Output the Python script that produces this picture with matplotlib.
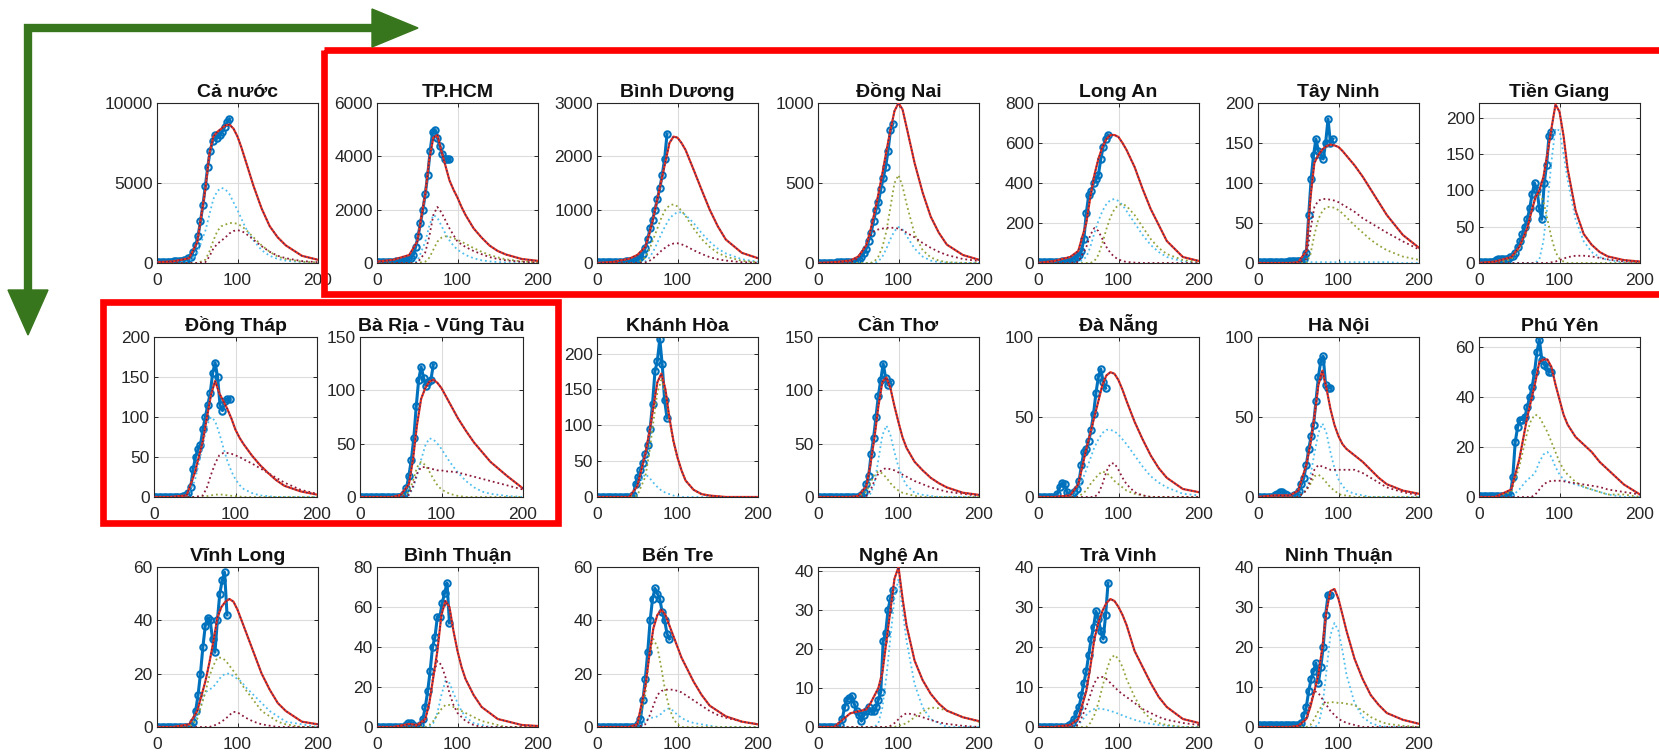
import matplotlib
matplotlib.use("Agg")
import matplotlib.pyplot as plt
from matplotlib.patches import Rectangle, Polygon
from matplotlib.lines import Line2D

plt.rcParams['font.family'] = ['Liberation Sans', 'DejaVu Sans']

model_days = [0, 20, 40, 50, 60, 65, 70, 75, 80, 85, 90, 95, 100, 105, 110, 120, 130, 140, 150, 160, 180, 200]
obs_days = list(range(0, 94, 3))

# ---- Cả nước
cn_fit = [50, 100, 300, 1300, 4600, 6800, 7900, 8200, 8400, 8600, 8650, 8400, 7900, 7200, 6400, 4800, 3400, 2300, 1600, 1100, 450, 200]
cn_c1 = [0, 0, 100, 600, 2000, 3000, 4000, 4500, 4700, 4600, 4300, 3800, 3300, 2750, 2200, 1400, 800, 450, 250, 150, 50, 20]
cn_c2 = [0, 0, 0, 0, 200, 700, 1400, 2000, 2300, 2400, 2500, 2500, 2450, 2300, 2100, 1600, 1100, 700, 400, 250, 80, 30]
cn_c3 = [0, 0, 0, 0, 50, 400, 900, 1200, 1400, 1600, 1850, 2000, 2050, 2000, 1850, 1450, 1050, 700, 450, 300, 120, 50]
cn_obs = [50, 50, 60, 60, 70, 80, 80, 100, 100, 120, 150, 170, 200, 300, 400, 700, 1100, 1700, 2600, 3600, 4800, 6000, 7000, 7600, 8000, 7800, 8000, 8200, 8500, 8800, 9000]

# ---- TP.HCM
hcm_fit = [50, 120, 300, 800, 2600, 3900, 4700, 4800, 4200, 3650, 3100, 2750, 2450, 2100, 1800, 1300, 950, 650, 450, 320, 150, 80]
hcm_c1 = [0, 0, 0, 50, 800, 1400, 1800, 1700, 1400, 1100, 850, 650, 500, 400, 300, 180, 100, 60, 35, 20, 8, 3]
hcm_c2 = [0, 0, 0, 0, 50, 200, 500, 800, 950, 1000, 980, 930, 870, 800, 720, 560, 420, 300, 210, 140, 60, 25]
hcm_c3 = [0, 0, 0, 0, 400, 1000, 1800, 2100, 1900, 1600, 1300, 1050, 800, 700, 600, 450, 330, 220, 150, 100, 45, 20]
hcm_obs = [30, 30, 30, 40, 40, 40, 50, 50, 60, 60, 60, 80, 100, 150, 200, 300, 600, 1000, 1500, 2000, 2600, 3300, 4200, 4900, 5000, 4700, 4400, 4100, 3900, 3900, 3900]

# ---- Bình Dương
bd_fit = [0, 20, 80, 150, 300, 550, 850, 1200, 1550, 1900, 2250, 2370, 2350, 2250, 2120, 1750, 1370, 1000, 690, 440, 190, 90]
bd_c1 = [0, 0, 0, 0, 30, 100, 220, 380, 550, 700, 830, 910, 950, 950, 900, 750, 560, 400, 270, 180, 70, 25]
bd_c2 = [0, 0, 0, 0, 100, 250, 450, 650, 850, 1000, 1080, 1100, 1060, 980, 880, 650, 450, 300, 190, 120, 40, 15]
bd_c3 = [0, 0, 0, 0, 10, 40, 90, 160, 230, 290, 340, 365, 370, 350, 320, 240, 170, 110, 70, 45, 15, 5]
bd_obs = [10, 10, 10, 10, 15, 15, 15, 20, 20, 20, 25, 25, 30, 30, 35, 40, 50, 80, 110, 170, 280, 450, 650, 800, 1000, 1200, 1400, 1650, 1950, 2420]

# ---- Đồng Nai
dn_fit = [0, 5, 15, 40, 110, 200, 310, 430, 560, 700, 830, 950, 1000, 960, 850, 625, 440, 290, 190, 115, 50, 20]
dn_c1 = [0, 0, 0, 0, 0, 0, 0, 10, 40, 90, 150, 200, 225, 210, 170, 90, 40, 15, 5, 2, 0, 0]
dn_c2 = [0, 0, 0, 0, 0, 0, 10, 40, 100, 200, 350, 500, 550, 480, 370, 180, 80, 35, 15, 5, 1, 0]
dn_c3 = [0, 0, 0, 30, 120, 170, 200, 210, 215, 220, 220, 220, 215, 205, 190, 160, 125, 95, 70, 50, 25, 12]
dn_obs = [2, 2, 2, 2, 3, 3, 3, 3, 4, 4, 5, 5, 5, 6, 7, 8, 10, 20, 40, 60, 90, 140, 190, 260, 330, 380, 460, 530, 600, 700, 830, 870]

# ---- Long An
la_fit = [0, 10, 30, 60, 200, 330, 440, 520, 580, 620, 640, 640, 630, 600, 565, 480, 370, 270, 190, 110, 30, 10]
la_c1 = [0, 0, 0, 0, 30, 80, 150, 210, 260, 295, 315, 320, 310, 290, 260, 200, 140, 90, 55, 30, 8, 2]
la_c2 = [0, 0, 0, 0, 0, 0, 10, 40, 100, 170, 230, 270, 290, 295, 285, 240, 180, 120, 75, 45, 15, 5]
la_c3 = [0, 0, 0, 5, 80, 140, 175, 160, 120, 80, 50, 30, 18, 10, 5, 2, 0, 0, 0, 0, 0, 0]
la_obs = [5, 5, 5, 5, 5, 5, 5, 5, 5, 5, 8, 10, 12, 15, 20, 25, 30, 40, 60, 120, 250, 340, 360, 400, 420, 440, 520, 580, 620, 640]

# ---- Tây Ninh
tn_fit = [0, 0, 0, 1, 15, 80, 125, 135, 142, 146, 148, 147, 145, 140, 134, 122, 108, 92, 76, 60, 35, 19]
tn_c1 = [0, 0, 0, 0, 1, 1, 1, 1, 1, 1, 1, 1, 1, 1, 1, 1, 1, 1, 1, 1, 0, 0]
tn_c2 = [0, 0, 0, 0, 0, 10, 35, 55, 65, 70, 70, 69, 66, 62, 57, 47, 38, 29, 22, 16, 8, 4]
tn_c3 = [0, 0, 0, 0, 5, 40, 70, 78, 80, 80, 79, 78, 76, 73, 70, 64, 56, 50, 44, 38, 27, 17]
tn_obs = [1, 1, 1, 1, 1, 1, 1, 1, 1, 1, 1, 1, 1, 2, 2, 2, 2, 2, 3, 5, 12, 60, 105, 135, 155, 140, 135, 130, 150, 180, 150, 155]

# ---- Tiền Giang
tg_fit = [0, 2, 8, 22, 48, 70, 90, 100, 118, 150, 185, 218, 208, 175, 130, 72, 40, 25, 15, 9, 4, 2]
tg_c1 = [0, 0, 0, 0, 0, 0, 0, 5, 30, 80, 140, 185, 182, 150, 115, 60, 30, 15, 8, 4, 1, 0]
tg_c2 = [0, 0, 5, 20, 45, 70, 90, 95, 85, 60, 35, 15, 6, 2, 0, 0, 0, 0, 0, 0, 0, 0]
tg_c3 = [0, 0, 0, 0, 0, 0, 0, 0, 0, 0, 1, 2, 4, 6, 8, 10, 10, 9, 7, 5, 2, 1]
tg_obs = [1, 1, 1, 1, 2, 2, 2, 4, 6, 6, 6, 5, 6, 8, 10, 14, 22, 30, 40, 50, 60, 75, 95, 110, 100, 75, 60, 110, 135, 175, 180]

# ---- Đồng Tháp
dt_fit = [0, 0, 2, 30, 70, 100, 128, 145, 130, 120, 110, 98, 84, 74, 66, 52, 40, 30, 21, 14, 7, 3]
dt_c1 = [0, 0, 0, 20, 65, 90, 100, 95, 80, 62, 45, 32, 22, 15, 10, 5, 2, 1, 0, 0, 0, 0]
dt_c2 = [0, 0, 0, 0, 0, 1, 2, 3, 3, 3, 2, 1.5, 1, 0.5, 0, 0, 0, 0, 0, 0, 0, 0]
dt_c3 = [0, 0, 0, 0, 2, 12, 28, 42, 52, 55, 55, 54, 52, 50, 47, 42, 36, 30, 24, 18, 9, 4]
dt_obs = [0, 0, 0, 0, 0, 0, 0, 0, 0, 0, 0, 0, 1, 2, 5, 12, 35, 50, 60, 65, 85, 100, 115, 130, 155, 168, 150, 115, 108, 120, 122, 122]

# ---- Bà Rịa - Vũng Tàu
br_fit = [0, 0, 0, 2, 12, 35, 68, 92, 102, 108, 110, 107, 102, 95, 88, 74, 62, 51, 42, 33, 20, 8]
br_c1 = [0, 0, 0, 0, 2, 8, 20, 35, 48, 55, 54, 50, 45, 39, 33, 23, 15, 9, 5, 3, 1, 0]
br_c2 = [0, 0, 0, 0, 5, 15, 28, 33, 30, 24, 17, 11, 7, 5, 3, 1, 0, 0, 0, 0, 0, 0]
br_c3 = [0, 0, 0, 0, 2, 10, 22, 28, 28, 27, 26, 25, 25, 24, 24, 23, 21, 19, 17, 15, 11, 7]
br_obs = [0, 0, 0, 0, 0, 0, 0, 0, 0, 0, 0, 0, 0, 0, 0, 0, 0, 1, 3, 8, 20, 35, 55, 85, 110, 122, 112, 104, 108, 110, 124]

# ---- Khánh Hòa
kh_fit = [0, 0, 0, 15, 60, 90, 125, 160, 172, 150, 110, 78, 55, 37, 23, 10, 4, 2, 1, 0, 0, 0]
kh_c1 = [0, 0, 0, 15, 32, 27, 20, 14, 9, 6, 4, 2, 1, 0, 0, 0, 0, 0, 0, 0, 0, 0]
kh_c2 = [0, 0, 0, 2, 28, 62, 105, 146, 163, 144, 106, 76, 54, 37, 23, 10, 4, 2, 1, 0, 0, 0]
kh_c3 = None
kh_obs = [0, 0, 0, 0, 0, 0, 0, 0, 0, 0, 0, 0, 0, 0, 0, 3, 18, 28, 38, 48, 60, 72, 95, 130, 175, 190, 220, 185, 135, 110]

# ---- Cần Thơ
ct_fit = [0, 0, 0, 1, 10, 30, 55, 85, 108, 112, 102, 85, 70, 56, 46, 33, 25, 18, 13, 9, 4, 2]
ct_c1 = [0, 0, 0, 0, 0, 3, 12, 35, 58, 67, 58, 42, 28, 18, 11, 4, 2, 1, 0, 0, 0, 0]
ct_c2 = [0, 0, 0, 0, 5, 13, 21, 24, 22, 18, 13, 9, 6, 4, 3, 1, 0, 0, 0, 0, 0, 0]
ct_c3 = [0, 0, 0, 0, 1, 6, 15, 22, 26, 27, 26, 25, 23, 21, 19, 15, 12, 9, 7, 5, 3, 1]
ct_obs = [0, 0, 0, 0, 0, 0, 0, 0, 0, 0, 0, 0, 0, 0, 0, 0, 0, 0, 2, 5, 12, 20, 40, 55, 75, 95, 110, 125, 112, 105, 108]

# ---- Đà Nẵng
dng_fit = [0, 0, 1, 8, 30, 40, 50, 60, 70, 76, 78, 77, 73, 67, 60, 47, 36, 26, 18, 12, 5, 3]
dng_c1 = [0, 0, 0, 4, 17, 24, 31, 36, 40, 42, 42, 41, 39, 36, 33, 26, 19, 13, 9, 6, 2, 1]
dng_c2 = [0, 0, 0, 0, 4, 8, 11, 14, 16, 15, 13, 10, 8, 6, 4, 2, 1, 0, 0, 0, 0, 0]
dng_c3 = [0, 0, 0, 0, 0, 0, 0, 2, 8, 16, 21, 21, 17, 12, 8, 3, 1, 0, 0, 0, 0, 0]
dng_obs = [0, 0, 0, 0, 0, 0, 0, 0, 2, 6, 9, 8, 3, 1, 2, 3, 5, 10, 20, 28, 30, 35, 42, 52, 65, 75, 80, 72, 68]

# ---- Hà Nội
hn_fit = [0, 1, 1, 4, 20, 33, 50, 70, 79, 68, 55, 45, 38, 33, 30, 26, 22, 17, 12, 8, 4, 2]
hn_c1 = [0, 0, 0, 0, 5, 13, 27, 40, 46, 40, 28, 18, 11, 7, 4, 2, 1, 0, 0, 0, 0, 0]
hn_c2 = [0, 0, 0, 0, 4, 8, 13, 14, 12, 9, 6, 4, 2, 1, 1, 0, 0, 0, 0, 0, 0, 0]
hn_c3 = [0, 0, 0, 0, 4, 10, 17, 20, 19, 18, 17, 17, 17, 17, 17, 17, 15, 12, 9, 6, 3, 1]
hn_obs = [0, 0, 0, 0, 0, 0, 0, 1, 2, 3, 3, 2, 1, 0, 0, 1, 2, 4, 8, 12, 20, 30, 38, 45, 60, 75, 85, 88, 70, 68, 68]

# ---- Phú Yên
py_fit = [0, 0, 3, 15, 32, 39, 46, 54, 55, 55, 52, 45, 39, 33, 29, 24, 21, 18, 14, 11, 5, 1]
py_c1 = [0, 0, 0, 3, 7, 8, 10, 14, 17, 18, 16, 12, 9, 7, 6, 5, 4, 3, 2, 1, 0, 0]
py_c2 = [0, 0, 2, 12, 26, 31, 33, 32, 29, 26, 22, 18, 14, 11, 9, 6, 4, 3, 2, 1, 1, 0]
py_c3 = [0, 0, 0, 0, 0, 0, 1, 3, 5, 6, 6.5, 6.5, 6.5, 6.3, 6, 5.5, 5, 4.5, 4, 3, 2, 1]
py_obs = [0.5, 0.5, 0.5, 0.5, 0.5, 0.5, 0.5, 0.5, 0.5, 0.5, 0.5, 0.5, 0.5, 1, 8, 22, 28, 31, 31, 32, 36, 40, 44, 50, 58, 63, 55, 53, 52, 50, 50]

# ---- Vĩnh Long
vl_fit = [0, 0, 1, 6, 17, 24, 32, 41, 45, 47, 48, 47, 44, 40, 36, 28, 20, 14, 9, 6, 2, 1]
vl_c1 = [0, 0, 0, 4, 13, 14, 15, 17, 19, 20, 20, 19, 18, 17, 15, 12, 9, 6, 4, 2, 1, 0]
vl_c2 = [0, 0, 0, 3, 13, 19, 23, 26, 26, 25, 23, 21, 19, 16, 14, 10, 6, 4, 2, 1, 0, 0]
vl_c3 = [0, 0, 0, 0, 0, 0, 0.5, 1, 2, 3, 4.5, 5.7, 5.5, 4.5, 3.5, 2, 1, 0.5, 0, 0, 0, 0]
vl_obs = [0, 0, 0, 0, 0, 0, 0, 0, 0, 0, 0, 0, 0, 0, 0.5, 2, 6, 12, 20, 30, 38, 41, 40, 33, 28, 40, 50, 55, 58, 42]

# ---- Bình Thuận
bth_fit = [0, 0, 1.5, 1, 4, 12, 25, 38, 56, 63, 60, 48, 38, 30, 24, 16, 10, 7, 4, 3, 1, 0.5]
bth_c1 = [0, 0, 0, 0, 0, 0, 2, 7, 16, 23, 22, 17, 12, 8, 5, 2, 1, 0, 0, 0, 0, 0]
bth_c2 = [0, 0, 0, 0, 0, 1, 3, 6, 9, 11, 11, 10, 9, 8, 7, 5, 3, 2, 1, 0, 0, 0]
bth_c3 = [0, 0, 0, 0, 3, 12, 26, 33, 31, 25, 17, 11, 7, 5, 3, 1, 0, 0, 0, 0, 0, 0]
bth_obs = [0, 0, 0, 0, 0, 0, 0, 0, 0, 0, 0, 0, 1, 2, 2, 1, 0, 0, 1, 4, 10, 18, 28, 40, 45, 55, 55, 62, 67, 72, 52]

# ---- Bến Tre
bt_fit = [0, 0, 0, 1, 15, 27, 37, 42, 44, 42, 38, 34, 30, 26, 23, 17, 12, 8, 6, 4, 2, 1]
bt_c1 = [0, 0, 0, 0, 2, 3.5, 3.5, 4, 5, 6.5, 7, 6, 4.5, 3.5, 2.5, 1.5, 1, 0.5, 0, 0, 0, 0]
bt_c2 = [0, 0, 0, 0, 12, 27, 33, 30, 22, 13, 7, 3, 1, 0, 0, 0, 0, 0, 0, 0, 0, 0]
bt_c3 = [0, 0, 0, 0, 1, 4, 8, 12, 13.5, 14, 14, 14, 13.5, 13, 12, 10, 8, 6, 4.5, 3.5, 2, 1]
bt_obs = [0, 0, 0, 0, 0, 0, 0, 0, 0, 0, 0, 0, 0, 0, 0, 0, 0, 1, 3, 10, 18, 28, 40, 48, 52, 50, 48, 43, 40, 35, 33]

# ---- Nghệ An
na_fit = [0, 0, 3.5, 4, 4.5, 6, 8, 10, 14, 22, 30, 38, 41, 33, 26, 17, 12, 8.5, 6, 4.2, 2.5, 1.5]
na_c1 = [0, 0, 0, 0, 0, 0, 0, 1, 5, 13, 23, 33, 38, 30, 22, 11, 5, 2, 1, 0, 0, 0]
na_c2 = [0, 0, 0, 0, 0, 0, 0, 0, 0, 0, 0, 0, 0.3, 0.6, 1, 2.5, 4, 5, 4.8, 4.2, 2.5, 1.3]
na_c3 = [0, 0, 0, 0, 0, 0, 0, 0, 0, 0, 0.3, 1, 2, 3, 3.5, 3.2, 2.5, 1.8, 1.2, 0.8, 0.3, 0]
na_obs = [0, 0, 0, 0, 0, 0, 0, 0, 0, 0.5, 2, 5, 7, 7.5, 8, 6, 4, 3, 1.5, 3, 4, 5, 4, 4, 5, 7, 9, 22, 24, 30, 33, 35]

# ---- Trà Vinh
tv_fit = [0, 0, 0.5, 2, 9, 15, 22, 26, 29, 31, 32, 31.5, 30, 28, 25.5, 19, 15, 11, 7.5, 5, 2, 1]
tv_c1 = [0, 0, 0, 0.5, 3, 4, 4.5, 4.6, 4.5, 4.3, 4, 3.7, 3.3, 2.9, 2.5, 1.8, 1.2, 0.8, 0.5, 0.3, 0, 0]
tv_c2 = [0, 0, 0, 0, 0, 1, 3, 6, 10, 14, 17, 18, 17, 15, 12, 7.5, 4, 2, 1, 0.5, 0, 0]
tv_c3 = [0, 0, 0, 0.5, 5, 8, 11, 12.5, 12.5, 12, 11, 10, 9, 8.2, 7.5, 6, 4.5, 3.5, 2.5, 1.8, 1, 0.5]
tv_obs = [0, 0, 0, 0, 0, 0, 0, 0, 0, 0, 0, 0, 0, 0.5, 1, 2, 3.5, 5, 8, 11, 14, 18, 22, 25, 29, 27, 24, 22, 28, 36]

# ---- Ninh Thuận
nt_fit = [0, 0, 0, 0.3, 2, 5, 9, 13, 20, 29, 34, 34.5, 32, 28, 24, 17, 12, 8, 5.5, 3.5, 1.8, 0.8]
nt_c1 = [0, 0, 0, 0, 0, 0, 0, 0.5, 5, 14, 23, 26, 24, 19, 13, 6, 2.5, 1, 0.3, 0, 0, 0]
nt_c2 = [0, 0, 0, 0, 0, 0.5, 2, 4, 5.5, 6, 6.2, 6.2, 6, 6, 5.8, 5.5, 4, 2.5, 1.5, 0.8, 0.3, 0]
nt_c3 = [0, 0, 0, 0, 2, 6, 9, 8.5, 7, 5.5, 4, 3, 2, 1.5, 1, 0.5, 0, 0, 0, 0, 0, 0]
nt_obs = [0.5, 0.5, 0.5, 0.5, 0.5, 0.5, 0.5, 0.5, 0.5, 0.5, 0.5, 0.5, 0.5, 0.5, 0.5, 0.5, 0.5, 0.5, 1, 3, 5, 9, 12, 14, 16, 11, 15, 20, 28, 33, 33]

# (title, observed, fit, comp1, comp2, comp3, y max, y ticks)
panels = [
    [("Cả nước", cn_obs, cn_fit, cn_c1, cn_c2, cn_c3, 10000, [0, 5000, 10000]),
     ("TP.HCM", hcm_obs, hcm_fit, hcm_c1, hcm_c2, hcm_c3, 6000, [0, 2000, 4000, 6000]),
     ("Bình Dương", bd_obs, bd_fit, bd_c1, bd_c2, bd_c3, 3000, [0, 1000, 2000, 3000]),
     ("Đồng Nai", dn_obs, dn_fit, dn_c1, dn_c2, dn_c3, 1000, [0, 500, 1000]),
     ("Long An", la_obs, la_fit, la_c1, la_c2, la_c3, 800, [0, 200, 400, 600, 800]),
     ("Tây Ninh", tn_obs, tn_fit, tn_c1, tn_c2, tn_c3, 200, [0, 50, 100, 150, 200]),
     ("Tiền Giang", tg_obs, tg_fit, tg_c1, tg_c2, tg_c3, 220, [0, 50, 100, 150, 200])],
    [("Đồng Tháp", dt_obs, dt_fit, dt_c1, dt_c2, dt_c3, 200, [0, 50, 100, 150, 200]),
     ("Bà Rịa - Vũng Tàu", br_obs, br_fit, br_c1, br_c2, br_c3, 150, [0, 50, 100, 150]),
     ("Khánh Hòa", kh_obs, kh_fit, kh_c1, kh_c2, kh_c3, 223, [0, 50, 100, 150, 200]),
     ("Cần Thơ", ct_obs, ct_fit, ct_c1, ct_c2, ct_c3, 150, [0, 50, 100, 150]),
     ("Đà Nẵng", dng_obs, dng_fit, dng_c1, dng_c2, dng_c3, 100, [0, 50, 100]),
     ("Hà Nội", hn_obs, hn_fit, hn_c1, hn_c2, hn_c3, 100, [0, 50, 100]),
     ("Phú Yên", py_obs, py_fit, py_c1, py_c2, py_c3, 64, [0, 20, 40, 60])],
    [("Vĩnh Long", vl_obs, vl_fit, vl_c1, vl_c2, vl_c3, 60, [0, 20, 40, 60]),
     ("Bình Thuận", bth_obs, bth_fit, bth_c1, bth_c2, bth_c3, 80, [0, 20, 40, 60, 80]),
     ("Bến Tre", bt_obs, bt_fit, bt_c1, bt_c2, bt_c3, 60, [0, 20, 40, 60]),
     ("Nghệ An", na_obs, na_fit, na_c1, na_c2, na_c3, 41, [0, 10, 20, 30, 40]),
     ("Trà Vinh", tv_obs, tv_fit, tv_c1, tv_c2, tv_c3, 40, [0, 10, 20, 30, 40]),
     ("Ninh Thuận", nt_obs, nt_fit, nt_c1, nt_c2, nt_c3, 40, [0, 10, 20, 30, 40])],
]

# pixel layout of the composite image
FIG_W, FIG_H = 1659, 752
row_tops = [103, 337, 567]
row_height = 160
col_lefts = [[157, 377, 597, 818, 1038, 1258, 1479],
             [154, 360, 597, 818, 1038, 1258, 1479],
             [157, 377, 597, 818, 1038, 1258]]
col_widths = [[161, 161, 161, 161, 161, 161, 161],
              [163, 163, 161, 161, 161, 161, 161],
              [161, 161, 161, 161, 161, 161]]

BLUE = "#0072BD"
RED = "#E8321E"
DARK = "#3a2a70"
CYAN = "#4DBEEE"
OLIVE = "#93A33A"
MAROON = "#8B1A3A"
TXT = "#262626"


def draw_panel(ax, title, obs, fit, c1, c2, c3, ymax, yticks):
    ax.plot(obs_days[:len(obs)], obs, "o-", color=BLUE, lw=2.2, ms=4.6,
            mfc="none", mew=1.5, zorder=2)
    for comp, col in ((c1, CYAN), (c2, OLIVE), (c3, MAROON)):
        if comp is not None:
            ax.plot(model_days, comp, ":", color=col, lw=1.3, zorder=3)
    ax.plot(model_days, fit, "-", color=RED, lw=1.6, zorder=4)
    ax.plot(model_days, fit, ":", color=DARK, lw=1.0, zorder=5)

    ax.set_xlim(0, 200)
    ax.set_ylim(0, ymax)
    ax.set_xticks([0, 100, 200])
    ax.set_yticks(yticks)
    ax.grid(True, color="#dcdcdc", lw=0.8)
    ax.set_axisbelow(True)
    ax.tick_params(direction="in", top=True, right=True, length=3,
                   labelsize=12.5, colors=TXT, width=0.7)
    ax.tick_params(axis="x", pad=7)
    ax.tick_params(axis="y", pad=3)
    for s in ax.spines.values():
        s.set_color(TXT)
        s.set_linewidth(0.8)
    ax.set_title(title, fontsize=14, fontweight="bold", pad=4, color="#111111")


fig = plt.figure(figsize=(FIG_W / 100, FIG_H / 100), dpi=100)

for r, row in enumerate(panels):
    for c, p in enumerate(row):
        left, width = col_lefts[r][c], col_widths[r][c]
        top = row_tops[r]
        ax = fig.add_axes([left / FIG_W, 1 - (top + row_height) / FIG_H,
                           width / FIG_W, row_height / FIG_H])
        draw_panel(ax, *p)

# overlay in pixel coordinates for the frames and arrows
ov = fig.add_axes([0, 0, 1, 1], zorder=20)
ov.set_xlim(0, FIG_W)
ov.set_ylim(FIG_H, 0)
ov.axis("off")
ov.patch.set_alpha(0)

ov.add_patch(Rectangle((324, 50), 1400, 244, fill=False, ec="#ff0000", lw=4.8))
ov.add_patch(Rectangle((103, 302), 455, 221, fill=False, ec="#ff0000", lw=4.8))

GREEN = "#38761d"
ov.add_line(Line2D([28, 28, 376], [292, 28, 28], color=GREEN, lw=6,
                   solid_joinstyle="miter", solid_capstyle="butt"))
ov.add_patch(Polygon([(372, 9), (418, 28), (372, 47)], closed=True, color=GREEN))
ov.add_patch(Polygon([(8, 290), (28, 335), (48, 290)], closed=True, color=GREEN))

fig.savefig("out.png", dpi=100)
